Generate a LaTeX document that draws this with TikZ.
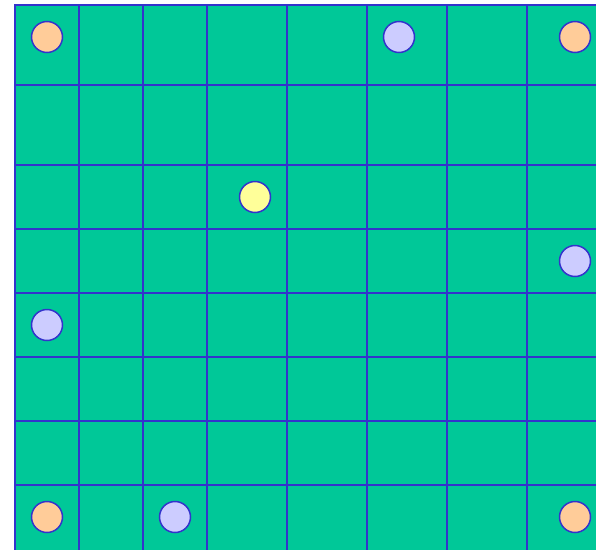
\documentclass[tikz,border=0pt]{standalone}
\usepackage{tikz}

\definecolor{board}{RGB}{0,200,152}
\definecolor{gridline}{RGB}{51,51,204}
\definecolor{peach}{RGB}{255,204,153}
\definecolor{lilac}{RGB}{204,204,255}
\definecolor{lemon}{RGB}{255,255,153}

\tikzset{
	token/.style={circle, draw=gridline, line width=1.5pt, minimum size=31pt, inner sep=0pt},
}

\begin{document}
\begin{tikzpicture}[x=1pt, y=-1pt, line cap=rect]
	\useasboundingbox (0,0) rectangle (596,549);
	\begin{scope}
		\clip (0,0) rectangle (596,549);
		% board
		\fill[board] (15,5) rectangle (600,553);
		% grid lines
		\foreach \gx in {15,79,143,207,287,367,447,527}
			\draw[gridline, line width=1.5pt] (\gx,5) -- (\gx,560);
		\foreach \gy in {5,85,165,229,293,357,421,485}
			\draw[gridline, line width=1.5pt] (15,\gy) -- (610,\gy);
	\end{scope}
	% pieces
	\node[token, fill=peach] (p1) at (47,37) {};
	\node[token, fill=lilac] (p2) at (399,37) {};
	\node[token, fill=peach] (p3) at (575,37) {};
	\node[token, fill=lemon] (p4) at (255,197) {};
	\node[token, fill=lilac] (p5) at (575,261) {};
	\node[token, fill=lilac] (p6) at (47,325) {};
	\node[token, fill=peach] (p7) at (47,517) {};
	\node[token, fill=lilac] (p8) at (175,517) {};
	\node[token, fill=peach] (p9) at (575,517) {};
\end{tikzpicture}
\end{document}
